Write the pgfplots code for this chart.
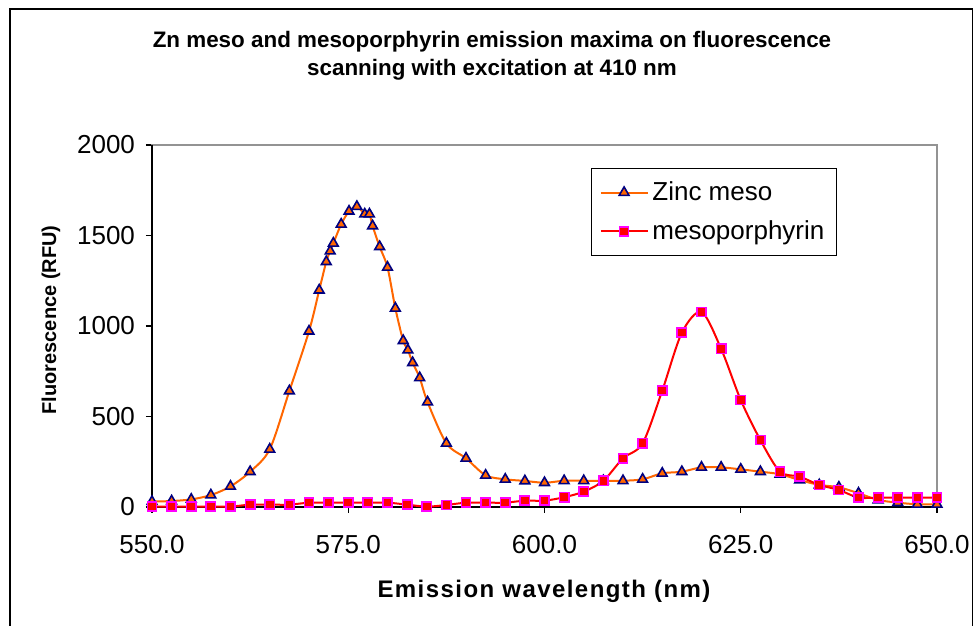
\documentclass[border=0pt]{standalone}
\usepackage{fontspec}
\setmainfont{Liberation Sans}
\usepackage{pgfplots}
\pgfplotsset{compat=1.18}
\definecolor{zincline}{RGB}{255,102,0}
\definecolor{zincedge}{RGB}{0,0,128}
\definecolor{mesoline}{RGB}{255,0,0}
\definecolor{mesoedge}{RGB}{255,0,255}
\begin{document}
\begin{tikzpicture}
\useasboundingbox (-76pt,-59.5pt) rectangle (411pt,253.5pt);
\draw[black, line width=0.7pt] (-71pt,-70pt) -- (-71pt,249pt) -- (410.3pt,249pt) -- (410.3pt,-70pt);
\node[anchor=base, font=\bfseries\fontsize{11.2}{13}\selectfont] at (170pt,229.5pt) {Zn meso and mesoporphyrin emission maxima on fluorescence};
\node[anchor=base, font=\bfseries\fontsize{11.2}{13}\selectfont] at (170pt,215.5pt) {scanning with excitation at 410 nm};
\node[font=\bfseries\fontsize{12}{14}\selectfont\addfontfeature{LetterSpace=6}] at (196pt,-42pt) {Emission wavelength (nm)};
\node[rotate=90, font=\bfseries\fontsize{10}{12}\selectfont] at (-50.5pt,93.5pt) {Fluorescence (RFU)};
\begin{axis}[
  at={(0pt,0pt)}, anchor=south west,
  scale only axis, width=392.5pt, height=181pt,
  xmin=550, xmax=650, ymin=0, ymax=2000,
  xtick={550,575,600,625,650}, ytick={0,500,1000,1500,2000},
  /pgf/number format/assume math mode=true,
  /pgf/number format/1000 sep={},
  tick label style={font=\fontsize{13}{15}\selectfont},
  xticklabel style={/tikz/yshift=-7.5pt, /pgf/number format/.cd, fixed, fixed zerofill, precision=1},
  yticklabel style={/tikz/xshift=-2pt},
  tick align=outside, tick pos=left, major tick length=3pt,
  major tick style={black, line width=0.6pt},
  axis line style={draw=gray!85, line width=0.9pt},
  clip=false,
  legend style={at={(0.8726,0.9365)}, anchor=north east, draw=black, line width=0.6pt,
    font=\fontsize{13}{15}\selectfont, inner xsep=4pt, inner ysep=4.5pt, row sep=4.5pt,
    cells={anchor=west}},
  legend image code/.code={\draw[mark repeat=2,mark phase=2,#1] plot coordinates {(0cm,0cm) (0.41cm,0cm) (0.82cm,0cm)};},
]
\draw[black, line width=0.8pt] (rel axis cs:0,1) -- (rel axis cs:0,0) -- (rel axis cs:1,0);
\addplot[smooth, color=zincline, line width=1pt, mark=triangle*, mark size=2.8pt,
  mark options={draw=zincedge, fill=zincline, line width=0.8pt, solid}] coordinates {
(550,30) (552.5,33) (555,42) (557.5,66) (560,114) (562.5,195) (565,319) (567.5,641)
(570,971) (571.3,1198) (572.2,1355) (572.7,1414) (573.1,1457) (574.1,1562) (575.1,1634)
(576.1,1660) (577.1,1618) (577.7,1618) (578.1,1553) (579.0,1438) (580.0,1324) (581.0,1098)
(582.0,919) (582.6,867) (583.2,797) (584.1,714) (585.1,580) (587.5,352) (590,269)
(592.5,175) (595,153) (597.5,144) (600,134) (602.5,145) (605,145) (607.5,145) (610,145)
(612.5,153) (615,186) (617.5,195) (620,219) (622.5,219) (625,208) (627.5,195) (630,181)
(632.5,149) (635,122) (637.5,109) (640,76) (642.5,39) (645,24) (647.5,15) (650,15)
};
\addlegendentry{Zinc meso}
\addplot[smooth, color=mesoline, line width=1pt, mark=square*, mark size=2.3pt,
  mark options={draw=mesoedge, fill=mesoline, line width=0.8pt, solid}] coordinates {
(550,2) (552.5,2) (555,2) (557.5,2) (560,2) (562.5,13) (565,13) (567.5,13) (570,24)
(572.5,24) (575,24) (577.5,24) (580,24) (582.5,13) (585,2) (587.5,11) (590,24) (592.5,24)
(595,24) (597.5,35) (600,35) (602.5,54) (605,85) (607.5,145) (610,269) (612.5,352)
(615,643) (617.5,963) (620,1077) (622.5,874) (625,591) (627.5,370) (630,195) (632.5,168)
(635,122) (637.5,94) (640,52) (642.5,52) (645,52) (647.5,52) (650,52)
};
\addlegendentry{mesoporphyrin}
\end{axis}
\end{tikzpicture}
\end{document}
